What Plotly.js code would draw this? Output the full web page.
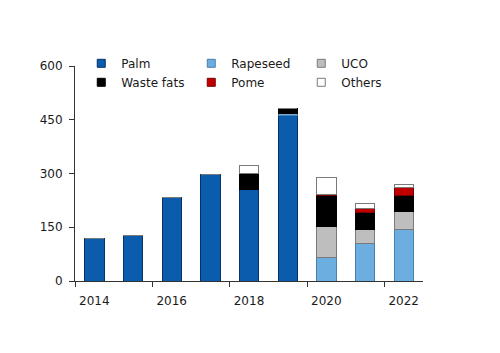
<!DOCTYPE html>
<html><head><meta charset="utf-8">
<script src="https://cdn.plot.ly/plotly-3.0.1.min.js"></script>
<style>html,body{margin:0;padding:0;background:#fff}#c{width:500px;height:353px}</style>
</head><body><div id="c"></div>
<script>
const years = [2014, 2015, 2016, 2017, 2018, 2019, 2020, 2021, 2022];
const palm      = [118, 128, 232, 296, 254, 462, 0, 0, 0];
const rapeseed  = [0, 0, 0, 0, 0, 6, 66, 105, 143];
const uco       = [0, 0, 0, 0, 0, 0, 85, 40, 50];
const wasteFats = [0, 0, 0, 0, 45, 14, 87, 45, 46];
const pome      = [0, 0, 0, 0, 0, 0, 4, 12, 21];
const others    = [0, 0, 0, 0, 24, 0, 47, 14, 10];
const xTickVals = [2014, 2016, 2018, 2020, 2022];
const xTickText = ['2014', '2016', '2018', '2020', '2022'];
const xBoundaryTicks = [2013.5, 2015.5, 2017.5, 2019.5, 2021.5];

const series = [
  {name: 'Palm', y: palm, color: '#0B5CAD', line: '#06326a'},
  {name: 'Rapeseed', y: rapeseed, color: '#6CAEE0', line: '#4a7fa8'},
  {name: 'UCO', y: uco, color: '#BEBEBE', line: '#7a7a7a'},
  {name: 'Waste fats', y: wasteFats, color: '#000000', line: '#000000'},
  {name: 'Pome', y: pome, color: '#C00000', line: '#7a0000'},
  {name: 'Others', y: others, color: '#FFFFFF', line: '#7a7a7a'}
];

const traces = [];
series.forEach(s => {
  traces.push({
    type: 'bar', x: years, y: s.y, name: s.name, width: 0.5,
    marker: {color: s.color, line: {color: s.line, width: 1}},
    showlegend: false, hoverinfo: 'skip'
  });
});
series.forEach(s => {
  traces.push({
    type: 'scatter', mode: 'markers', x: [null], y: [null], name: s.name,
    showlegend: true,
    marker: {symbol: 'square', size: 8, color: s.color, line: {color: s.line, width: 1}}
  });
});
traces.push({type: 'scatter', x: [null], y: [null], xaxis: 'x2', showlegend: false});

const layout = {
  width: 500, height: 353,
  margin: {l: 75, r: 77, t: 66, b: 72},
  paper_bgcolor: '#fff', plot_bgcolor: '#fff',
  barmode: 'stack',
  font: {family: 'DejaVu Sans, sans-serif', size: 12, color: '#1a1a1a'},
  showlegend: true,
  legend: {
    orientation: 'h', traceorder: 'normal', x: 0.018, xanchor: 'left', y: 1.08, yanchor: 'top',
    entrywidth: 65, entrywidthmode: 'pixels', itemwidth: 30, tracegroupgap: 0,
    bgcolor: 'rgba(0,0,0,0)', font: {size: 12, color: '#1a1a1a'}
  },
  xaxis: {
    range: [2013.5, 2022.5], tickvals: xTickVals, ticktext: xTickText,
    ticks: 'outside', ticklen: 9, tickcolor: 'rgba(0,0,0,0)',
    showline: true, linecolor: '#333', linewidth: 1,
    showgrid: false, zeroline: false, fixedrange: true
  },
  xaxis2: {
    overlaying: 'x', anchor: 'y', side: 'bottom',
    range: [2013.5, 2022.5], tickvals: xBoundaryTicks,
    ticks: 'outside', ticklen: 5, tickcolor: '#333', tickwidth: 1,
    showticklabels: false, showline: false, showgrid: false, zeroline: false
  },
  yaxis: {
    range: [0, 600], tickvals: [0, 150, 300, 450, 600],
    ticks: 'outside', ticklen: 5, tickcolor: '#333', ticklabelstandoff: 4,
    showline: true, linecolor: '#333', linewidth: 1,
    showgrid: false, zeroline: false
  }
};
Plotly.newPlot('c', traces, layout, {displayModeBar: false, staticPlot: true});
</script>
</body></html>
